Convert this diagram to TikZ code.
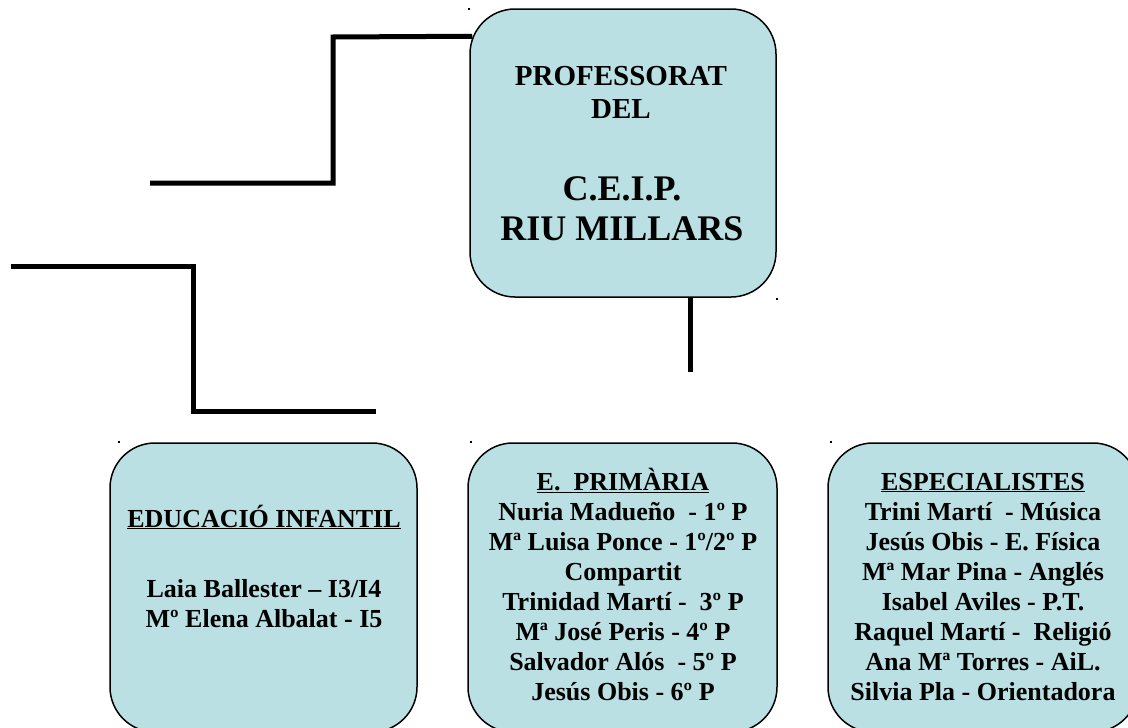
\documentclass[tikz,border=0pt]{standalone}
\usepackage{fontspec}
\setmainfont{Liberation Serif}
\definecolor{blaucel}{RGB}{187,224,227}
\begin{document}
\begin{tikzpicture}[x=1pt,y=-1pt,line width=5pt,
	caixa/.style={draw,line width=1.5pt,fill=blaucel,rounded corners=45pt,inner sep=0pt,minimum width=307pt,minimum height=289pt},
	lletra/.style={align=center,anchor=base,inner sep=0pt,font=\fontsize{26}{30}\selectfont\bfseries}]
		\useasboundingbox (0,0) rectangle (1128,728);
		\node[caixa,minimum width=306pt,minimum height=288pt] (professorat) at (623,153) {};
		\node[caixa] (infantil) at (263.5,587.5) {};
		\node[caixa,minimum width=309pt] (primaria) at (622.5,587.5) {};
		\node[caixa,minimum width=310pt] (especialistes) at (983,587.5) {};
		\node[lletra,font=\fontsize{29}{33}\selectfont\bfseries] (titol) at (621,118) {PROFESSORAT\\DEL};
		\node[lletra,font=\fontsize{36}{40}\selectfont\bfseries] (centre) at (622,240) {C.E.I.P.\\RIU MILLARS};
		\node[lletra] (txtinf) at (264,627) {\underline{EDUCACIÓ INFANTIL}\\[40pt]Laia Ballester – I3/I4\\Mº Elena Albalat - I5};
		\node[lletra] (txtprim) at (623,700) {\underline{E.\ \ PRIMÀRIA}\\Nuria Madueño\ \ - 1º P\\Mª Luisa Ponce - 1º/2º P\\Compartit\\Trinidad Martí -\ \ 3º P\\Mª José Peris - 4º P\\Salvador Alós\ \ - 5º P\\Jesús Obis - 6º P};
		\node[lletra] (txtesp) at (983,700) {\underline{ESPECIALISTES}\\Trini Martí\ \ - Música\\Jesús Obis - E. Física\\Mª Mar Pina - Anglés\\Isabel Aviles - P.T.\\Raquel Martí -\ \ Religió\\Ana Mª Torres - AiL.\\Silvia Pla - Orientadora};
		\coordinate (fi1) at (150,183);
		\coordinate (ini2) at (11,266);
		\coordinate (fi2) at (376,411);
		\coordinate (fi3) at (690,372);
		\draw ([xshift=3pt,yshift=-28pt]professorat.north west) -- (333,37) -- (333,183) -- (fi1);
		\draw (ini2) -- (193,266) -- (193,411) -- (fi2);
		\draw ([xshift=67pt]professorat.south) -- (fi3);
		\foreach \p in {(468,8),(776,298),(118,441),(470,441),(830,441)}
			\fill \p rectangle ++(2,2);
		\end{tikzpicture}
\end{document}
